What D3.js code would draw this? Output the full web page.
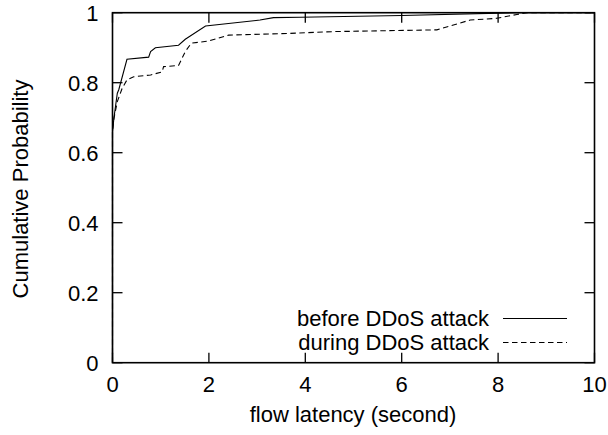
<!DOCTYPE html>
<html>
<head>
<meta charset="utf-8">
<script src="https://cdn.jsdelivr.net/npm/d3@7"></script>
<style>
  html, body { margin: 0; padding: 0; background: #fff; }
  text { font-family: "Liberation Sans", Arial, sans-serif; fill: #000; }
</style>
</head>
<body>
<svg id="chart" width="608" height="435"></svg>
<script>
// CDF of flow latency before and during the DDoS attack
const latencyBefore = [0, 0, 0.03, 0.1, 0.13, 0.30, 0.75, 0.79, 0.89, 1.37, 1.51, 1.93, 3.06, 3.34, 3.9, 6.0, 8.4, 10];
const cdfBefore     = [0, 0.66, 0.70, 0.77, 0.78, 0.867, 0.873, 0.889, 0.90, 0.907, 0.924, 0.962, 0.979, 0.986, 0.987, 0.992, 1.0, 1.0];

const latencyDuring = [0, 0, 0.03, 0.1, 0.2, 0.3, 0.44, 0.79, 1.03, 1.06, 1.37, 1.51, 1.62, 1.64, 1.99, 2.41, 3.69, 4.59, 6.73, 7.42, 7.97, 8.39, 8.6, 10];
const cdfDuring     = [0, 0.66, 0.698, 0.746, 0.784, 0.808, 0.817, 0.822, 0.831, 0.846, 0.849, 0.889, 0.91, 0.913, 0.919, 0.936, 0.941, 0.946, 0.951, 0.979, 0.984, 0.995, 1.0, 1.0];

const xTicks = [0, 2, 4, 6, 8, 10];
const yTicks = [0, 0.2, 0.4, 0.6, 0.8, 1];
const seriesNames = ["before DDoS attack", "during DDoS attack"];

const svg = d3.select("#chart");
const plotL = 112.5, plotR = 594.5, plotT = 12.7, plotB = 362.7;
const fs = 22;

const x = d3.scaleLinear().domain([0, 10]).range([plotL, plotR]);
const y = d3.scaleLinear().domain([0, 1]).range([plotB, plotT]);

// tick marks drawn inward on all four sides
const tickLen = 10;
const axisG = svg.append("g").attr("stroke", "#000").attr("stroke-width", 1.3);
xTicks.forEach(t => {
  axisG.append("line").attr("x1", x(t)).attr("x2", x(t)).attr("y1", plotB).attr("y2", plotB - tickLen);
  axisG.append("line").attr("x1", x(t)).attr("x2", x(t)).attr("y1", plotT).attr("y2", plotT + tickLen);
});
yTicks.forEach(t => {
  axisG.append("line").attr("x1", plotL).attr("x2", plotL + tickLen).attr("y1", y(t)).attr("y2", y(t));
  axisG.append("line").attr("x1", plotR).attr("x2", plotR - tickLen).attr("y1", y(t)).attr("y2", y(t));
});

// tick labels
svg.append("g").selectAll("text").data(xTicks).join("text")
  .attr("x", d => x(d)).attr("y", plotB + 29.5)
  .attr("text-anchor", "middle").attr("font-size", fs)
  .text(d => d3.format("")(d));
svg.append("g").selectAll("text").data(yTicks).join("text")
  .attr("x", plotL - 14).attr("y", d => y(d) + 8)
  .attr("text-anchor", "end").attr("font-size", fs)
  .text(d => d3.format("")(d));

// axis titles
svg.append("text")
  .attr("x", 353).attr("y", 422)
  .attr("text-anchor", "middle").attr("font-size", fs)
  .text("flow latency (second)");
svg.append("text")
  .attr("transform", `translate(28,189) rotate(-90)`)
  .attr("text-anchor", "middle").attr("font-size", fs)
  .text("Cumulative Probability");

// curves
const line = d3.line().x(d => x(d[0])).y(d => y(d[1]));
const before = latencyBefore.map((v, i) => [v, cdfBefore[i]]);
const during = latencyDuring.map((v, i) => [v, cdfDuring[i]]);
svg.append("path").datum(during).attr("d", line)
  .attr("fill", "none").attr("stroke", "#000").attr("stroke-width", 1.1)
  .attr("stroke-dasharray", "5.5,3.5");
svg.append("path").datum(before).attr("d", line)
  .attr("fill", "none").attr("stroke", "#000").attr("stroke-width", 1.1);

// frame
svg.append("rect").attr("x", plotL).attr("y", plotT)
  .attr("width", plotR - plotL).attr("height", plotB - plotT)
  .attr("fill", "none").attr("stroke", "#000").attr("stroke-width", 1.6);

// legend
const legend = svg.append("g");
const dashes = [null, "5.5,3.5"];
seriesNames.forEach((name, i) => {
  const ly = 318.5 + i * 24;
  legend.append("text").attr("x", 489).attr("y", ly + 7.5)
    .attr("text-anchor", "end").attr("font-size", fs).text(name);
  legend.append("line").attr("x1", 503).attr("x2", 567).attr("y1", ly).attr("y2", ly)
    .attr("stroke", "#000").attr("stroke-width", 1)
    .attr("stroke-dasharray", dashes[i]);
});
</script>
</body>
</html>
